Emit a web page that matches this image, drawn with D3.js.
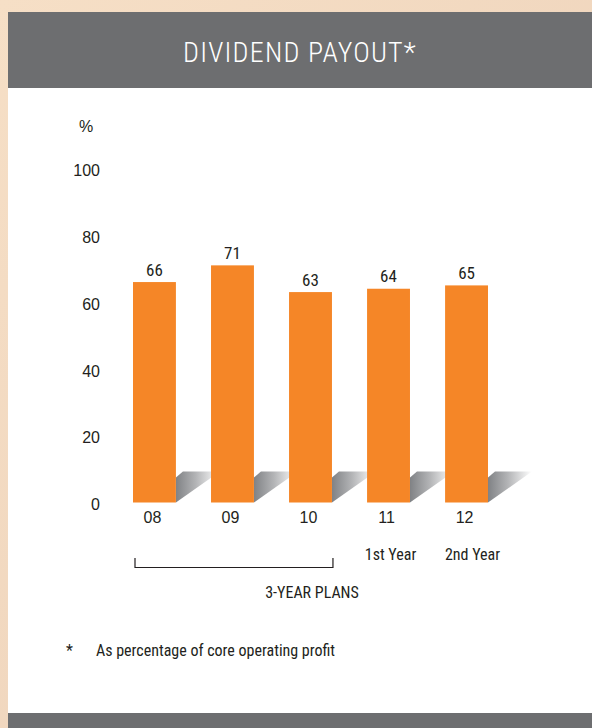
<!DOCTYPE html>
<html>
<head>
<meta charset="utf-8">
<script src="https://cdn.jsdelivr.net/npm/d3@7"></script>
<style>
  html, body { margin: 0; padding: 0; }
  body { width: 592px; height: 728px; overflow: hidden; background: #f2dac4; }
  svg { display: block; }
</style>
</head>
<body>
<svg id="chart" width="592" height="728"></svg>
<script>
// Dividend payout ratio by fiscal year
const years = ["08", "09", "10", "11", "12"];
const payout = [66, 71, 63, 64, 65];
const yearNotes = ["", "", "", "1st Year", "2nd Year"];
const yTicks = [0, 20, 40, 60, 80, 100];
const planLabel = "3-YEAR PLANS";
const planYears = ["08", "09", "10"];
const titleText = "DIVIDEND PAYOUT*";
const unitLabel = "%";
const footnote = "As percentage of core operating profit";

const svg = d3.select("#chart");
const W = 592, H = 728;

const defs = svg.append("defs");
const bg = defs.append("linearGradient").attr("id", "bgGrad")
  .attr("x1", 0).attr("y1", 0).attr("x2", 1).attr("y2", 1);
bg.append("stop").attr("offset", 0).attr("stop-color", "#f6dfc6");
bg.append("stop").attr("offset", 1).attr("stop-color", "#ecd0b8");

const shade = defs.append("linearGradient").attr("id", "shadeGrad")
  .attr("x1", 0).attr("y1", 0).attr("x2", 1).attr("y2", 0);
shade.append("stop").attr("offset", 0).attr("stop-color", "#808285");
shade.append("stop").attr("offset", 0.45).attr("stop-color", "#b3b4b6");
shade.append("stop").attr("offset", 1).attr("stop-color", "#ffffff");

// page background and panel
svg.append("rect").attr("width", W).attr("height", H).attr("fill", "url(#bgGrad)");
svg.append("rect").attr("x", 8).attr("y", 12).attr("width", W - 8).attr("height", H - 12).attr("fill", "#ffffff");
svg.append("rect").attr("x", 8).attr("y", 12).attr("width", W - 8).attr("height", 76).attr("fill", "#6d6e70");
svg.append("rect").attr("x", 8).attr("y", 713).attr("width", W - 8).attr("height", 15).attr("fill", "#6d6e70");

svg.append("text")
  .attr("x", 300).attr("y", 62)
  .attr("text-anchor", "middle")
  .attr("fill", "#ffffff")
  .style("font-family", "'Liberation Sans Narrow', 'Roboto Condensed', Roboto, sans-serif")
  .style("font-size", "28px")
  .style("font-weight", "300")
  .style("letter-spacing", "1.2px")
  .text(titleText);

// scales
const x = d3.scaleBand().domain(years).range([133, 488]).paddingInner(0.45).paddingOuter(0);
const y = d3.scaleLinear().domain([0, 100]).range([502.5, 168.5]);

const numFont = "'Liberation Sans', Arial, Helvetica, sans-serif";
const narrowFont = "'Liberation Sans Narrow', 'Roboto Condensed', 'Liberation Sans', sans-serif";

// y axis: labels only
const yAxis = d3.axisLeft(y).tickValues(yTicks).tickSize(0).tickPadding(0);
const yg = svg.append("g").attr("transform", "translate(100,0)").call(yAxis);
yg.select(".domain").remove();
yg.selectAll("text")
  .attr("dy", "0.45em")
  .attr("fill", "#231f20")
  .style("font-family", numFont)
  .style("font-size", "16px");

svg.append("text")
  .attr("x", 86).attr("y", 132)
  .attr("text-anchor", "middle")
  .attr("fill", "#231f20")
  .style("font-family", numFont)
  .style("font-size", "16px")
  .text(unitLabel);

// floor shadows behind each bar
const bw = x.bandwidth();
svg.append("g").selectAll("path")
  .data(years)
  .join("path")
  .attr("d", d => {
    const R = x(d) + bw, B = y(0);
    return `M${R},${B} L${R},${B - 25} L${R + 7},${B - 31} L${R + 44},${B - 31} Z`;
  })
  .attr("fill", "url(#shadeGrad)");

// bars
svg.append("g").selectAll("rect")
  .data(payout)
  .join("rect")
  .attr("x", (d, i) => x(years[i]))
  .attr("y", d => y(d))
  .attr("width", bw)
  .attr("height", d => y(0) - y(d))
  .attr("fill", "#f58627");

// value labels
svg.append("g").selectAll("text")
  .data(payout)
  .join("text")
  .attr("x", (d, i) => x(years[i]) + bw / 2)
  .attr("y", d => y(d) - 6.5)
  .attr("text-anchor", "middle")
  .attr("fill", "#231f20")
  .style("font-family", narrowFont)
  .style("font-size", "17px")
  .text(d => d);

// x axis labels
const xAxis = d3.axisBottom(x).tickSize(0).tickPadding(0);
const xg = svg.append("g").attr("transform", `translate(-2,${y(0) + 20})`).call(xAxis);
xg.select(".domain").remove();
xg.selectAll("text")
  .attr("dy", 0)
  .attr("fill", "#231f20")
  .style("font-family", numFont)
  .style("font-size", "16px");

// year-of-plan notes
svg.append("g").selectAll("text")
  .data(yearNotes)
  .join("text")
  .attr("x", (d, i) => x(years[i]) + bw / 2 + (i === 4 ? 6 : 2))
  .attr("y", 560)
  .attr("text-anchor", "middle")
  .attr("fill", "#231f20")
  .style("font-family", narrowFont)
  .style("font-size", "16px")
  .text(d => d);

// bracket spanning the three-year plan
const bx0 = x(planYears[0]) + 2;
const bx1 = x(planYears[planYears.length - 1]) + bw + 1;
svg.append("path")
  .attr("d", `M${bx0},558 V567.5 H${bx1} V558`)
  .attr("fill", "none")
  .attr("stroke", "#231f20")
  .attr("stroke-width", 1.2);

svg.append("text")
  .attr("x", 312).attr("y", 598)
  .attr("text-anchor", "middle")
  .attr("fill", "#231f20")
  .style("font-family", narrowFont)
  .style("font-size", "16px")
  .text(planLabel);

// footnote
svg.append("text")
  .attr("x", 66).attr("y", 656)
  .attr("fill", "#231f20")
  .style("font-family", narrowFont)
  .style("font-size", "16px")
  .text("*");
svg.append("text")
  .attr("x", 96).attr("y", 656)
  .attr("fill", "#231f20")
  .style("font-family", narrowFont)
  .style("font-size", "16px")
  .text(footnote);
</script>
</body>
</html>
